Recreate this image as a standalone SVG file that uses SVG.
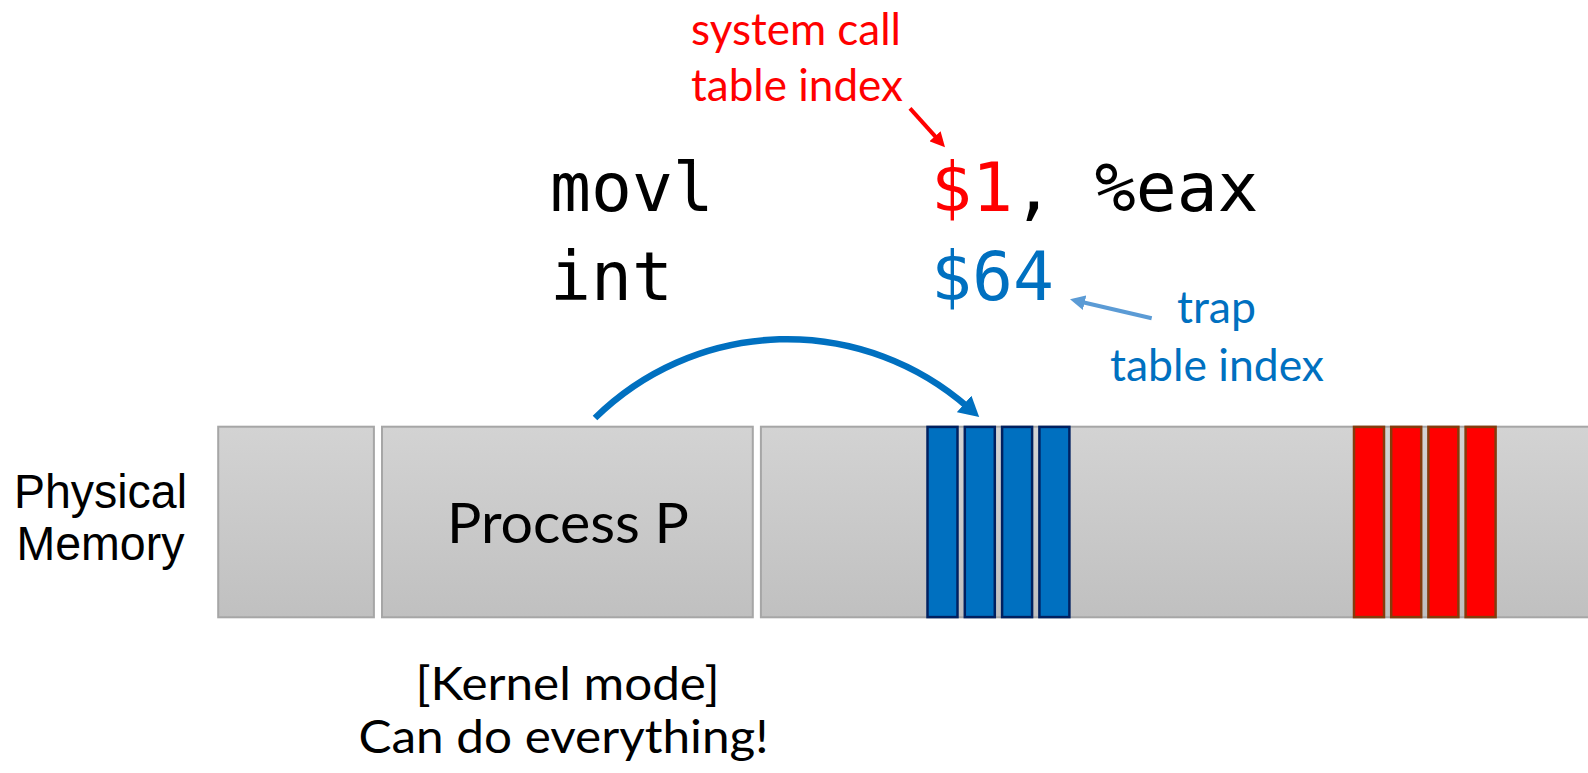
<svg xmlns="http://www.w3.org/2000/svg" width="1588" height="773" viewBox="0 0 1588 773">
<style>
.cal{font-family:Lato,"Open Sans","Noto Sans",sans-serif;}
.mono{font-family:"DejaVu Sans Mono","Liberation Mono",monospace;font-size:68px;}
.ari{font-family:"Liberation Sans",Arial,sans-serif;font-size:47.5px;fill:#000;}
.mem{fill:url(#g);stroke:#A6A6A6;stroke-width:2;}
.bb{fill:#0070C0;stroke:#002060;stroke-width:2.5;}
.rb{fill:#FF0000;stroke:#843C0C;stroke-width:2.5;}
</style>
<defs>
<linearGradient id="g" x1="0" y1="0" x2="0" y2="1">
<stop offset="0" stop-color="#D3D3D3"/>
<stop offset="1" stop-color="#C0C0C0"/>
</linearGradient>
<marker id="ab" markerUnits="userSpaceOnUse" viewBox="0 0 20 22" markerWidth="20" markerHeight="22" refX="5" refY="11" orient="auto"><path d="M0,0 L20,11 L0,22 z" fill="#0070C0"/></marker>
<marker id="ar" markerUnits="userSpaceOnUse" viewBox="0 0 15 15" markerWidth="15" markerHeight="15" refX="3" refY="7.5" orient="auto"><path d="M0,0 L15,7.5 L0,15 z" fill="#FF0000"/></marker>
<marker id="al" markerUnits="userSpaceOnUse" viewBox="0 0 15 15" markerWidth="15" markerHeight="15" refX="3" refY="7.5" orient="auto"><path d="M0,0 L15,7.5 L0,15 z" fill="#5B9BD5"/></marker>
</defs>
<rect width="1588" height="773" fill="#FFFFFF"/>
<g id="label-physical-memory">
<text class="ari" x="100.5" y="508" text-anchor="middle" textLength="173" lengthAdjust="spacingAndGlyphs">Physical</text>
<text class="ari" x="100.5" y="560" text-anchor="middle" textLength="168" lengthAdjust="spacingAndGlyphs">Memory</text>
</g>
<g id="mem-block-1"><rect class="mem" x="218.2" y="426.7" width="155.7" height="190.6"/></g>
<g id="process-p">
<rect class="mem" x="382" y="426.7" width="370.8" height="190.6"/>
<text class="cal" x="568" y="543" font-size="57" text-anchor="middle" textLength="242" lengthAdjust="spacingAndGlyphs">Process P</text>
</g>
<g id="mem-block-3"><rect class="mem" x="760.9" y="426.7" width="840" height="190.6"/></g>
<g id="trap-table">
<rect class="bb" x="927.5" y="426.9" width="30" height="190.2"/>
<rect class="bb" x="964.8" y="426.9" width="30" height="190.2"/>
<rect class="bb" x="1002.1" y="426.9" width="30" height="190.2"/>
<rect class="bb" x="1039.4" y="426.9" width="30" height="190.2"/>
</g>
<g id="syscall-table">
<rect class="rb" x="1354" y="426.9" width="30" height="190.2"/>
<rect class="rb" x="1391.2" y="426.9" width="30" height="190.2"/>
<rect class="rb" x="1428.4" y="426.9" width="30" height="190.2"/>
<rect class="rb" x="1465.6" y="426.9" width="30" height="190.2"/>
</g>
<g id="code">
<text class="mono" x="550" y="211" fill="#000">movl</text>
<text class="mono" x="931" y="211" fill="#000"><tspan fill="#FF0000">$1</tspan>, %eax</text>
<text class="mono" x="550" y="300" fill="#000">int</text>
<text class="mono" x="931" y="300" fill="#0070C0">$64</text>
</g>
<g id="label-syscall-index">
<text class="cal" x="796" y="45" font-size="44" fill="#FF0000" text-anchor="middle" textLength="210" lengthAdjust="spacingAndGlyphs">system call</text>
<text class="cal" x="797" y="100.7" font-size="44" fill="#FF0000" text-anchor="middle" textLength="212" lengthAdjust="spacingAndGlyphs">table index</text>
</g>
<g id="label-trap-index">
<text class="cal" x="1216.5" y="323" font-size="44" fill="#0070C0" text-anchor="middle" textLength="79" lengthAdjust="spacingAndGlyphs">trap</text>
<text class="cal" x="1217" y="381" font-size="44" fill="#0070C0" text-anchor="middle" textLength="214" lengthAdjust="spacingAndGlyphs">table index</text>
</g>
<g id="label-kernel">
<text class="cal" x="567.5" y="700" font-size="46" fill="#000" text-anchor="middle" textLength="304" lengthAdjust="spacingAndGlyphs">[Kernel mode]</text>
<text class="cal" x="563.5" y="752.7" font-size="46" fill="#000" text-anchor="middle" textLength="410" lengthAdjust="spacingAndGlyphs">Can do everything!</text>
</g>
<g id="connectors" fill="none">
<path d="M595,418 A274,274 0 0 1 967.9,407.2" stroke="#0070C0" stroke-width="6.5" marker-end="url(#ab)"/>
<path d="M910,108.3 L937,138.4" stroke="#FF0000" stroke-width="4" marker-end="url(#ar)"/>
<path d="M1151.7,318.3 L1081.7,302" stroke="#5B9BD5" stroke-width="4" marker-end="url(#al)"/>
</g>
</svg>
